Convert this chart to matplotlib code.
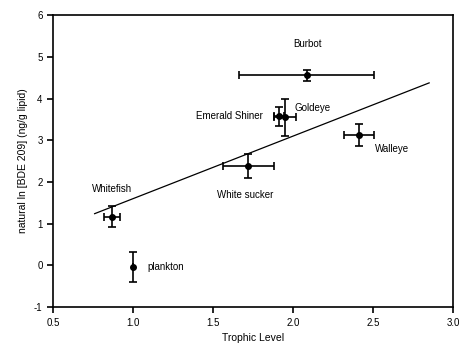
import matplotlib
matplotlib.use("Agg")
import matplotlib.pyplot as plt
import numpy as np

plt.rcParams['font.family'] = ['Liberation Sans', 'DejaVu Sans']
plt.rcParams['axes.unicode_minus'] = False

# Data
species = ['Whitefish', 'plankton', 'White sucker', 'Burbot', 'Emerald Shiner', 'Goldeye', 'Walleye']
trophic = [0.87, 1.00, 1.72, 2.085, 1.91, 1.95, 2.41]
trophic_err = [0.05, 0.0, 0.16, 0.42, 0.03, 0.07, 0.095]
ln_bde = [1.17, -0.03, 2.38, 4.56, 3.57, 3.55, 3.12]
ln_bde_err = [0.26, 0.36, 0.28, 0.13, 0.22, 0.45, 0.26]

# label positions (x, y, ha)
label_pos = [(0.87, 1.84, 'center'), (1.09, -0.03, 'left'), (1.70, 1.68, 'center'),
             (2.09, 5.3, 'center'), (1.81, 3.57, 'right'), (2.01, 3.78, 'left'),
             (2.51, 2.78, 'left')]

# regression line
fit_intercept = 0.10
fit_slope = 1.50
fit_x = np.array([0.76, 2.85])

fig = plt.figure(figsize=(4.61, 3.51), dpi=100)
ax = fig.add_axes([0.115, 0.125, 0.868, 0.832])

ax.plot(fit_x, fit_intercept + fit_slope * fit_x, color='black', lw=0.9)
ax.errorbar(trophic, ln_bde, xerr=trophic_err, yerr=ln_bde_err, fmt='o', color='black',
            ms=4, elinewidth=1.2, capsize=3, capthick=1.2)

for name, (lx, ly, ha) in zip(species, label_pos):
    ax.text(lx, ly, name, fontsize=7, ha=ha, va='center')

ax.set_xlim(0.5, 3.0)
ax.set_ylim(-1, 6)
ax.set_xticks([0.5, 1.0, 1.5, 2.0, 2.5, 3.0])
ax.set_xticklabels(['0.5', '1.0', '1.5', '2.0', '2.5', '3.0'])
ax.set_yticks(range(-1, 7))
ax.tick_params(direction='out', length=4, width=1.2, labelsize=7, top=False, right=False)
for sp in ax.spines.values():
    sp.set_linewidth(1.2)

ax.set_xlabel('Trophic Level', fontsize=7.5)
ax.set_ylabel('natural ln [BDE 209] (ng/g lipid)', fontsize=7.5)

fig.savefig('out.png', dpi=100)
